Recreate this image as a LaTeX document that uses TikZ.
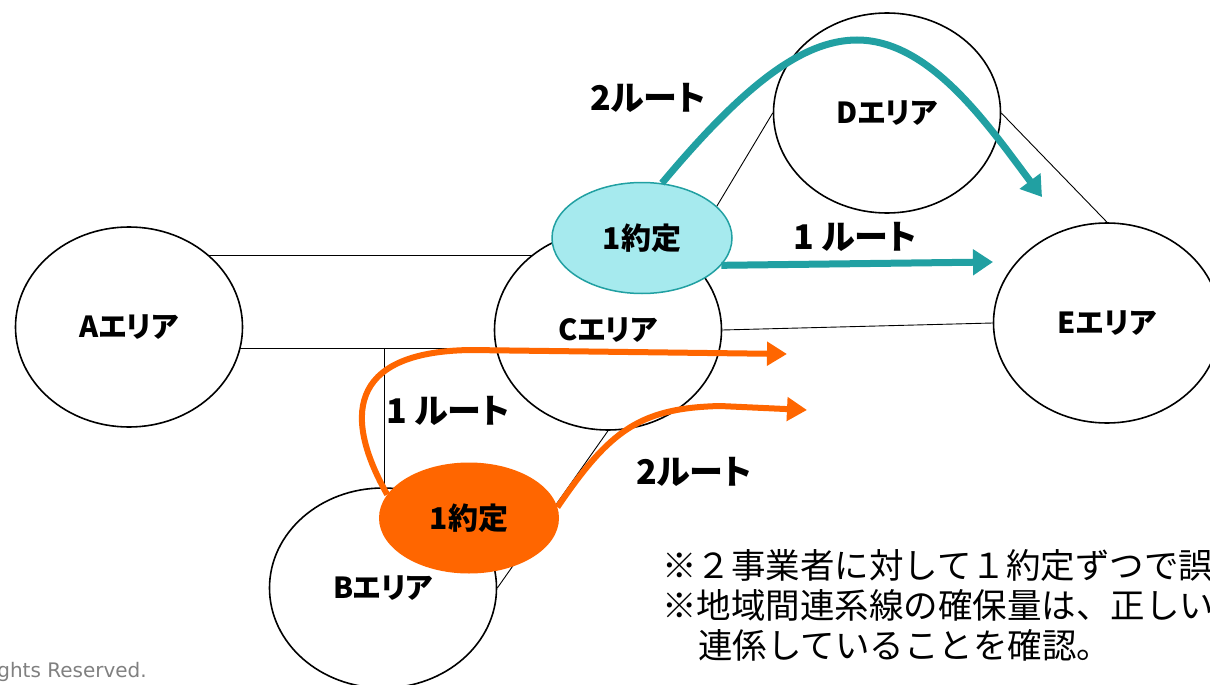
\documentclass[tikz,border=0pt]{standalone}
\usepackage{fontspec}
\setmainfont{Noto Sans CJK JP}
\newfontfamily\jpp{Noto Sans CJK JP}[RawFeature=+palt]
\newfontfamily\crfont{DejaVu Sans}
\usetikzlibrary{arrows.meta,backgrounds,calc,shapes.geometric}
\definecolor{tealline}{HTML}{21A0A2}
\definecolor{tealfill}{HTML}{A6EAEE}
\definecolor{orng}{HTML}{FF6600}
\definecolor{crgray}{HTML}{808080}
\begin{document}
\begin{tikzpicture}[x=1pt,y=-1pt,
  area/.style={ellipse, draw=black, line width=1.6pt, fill=white,
    minimum width=227pt, minimum height=200pt, inner sep=0pt,
    font=\fontsize{29}{29}\selectfont\bfseries\jpp},
  contract/.style={ellipse, minimum width=180pt, minimum height=111pt, inner sep=0pt,
    font=\fontsize{30}{30}\selectfont\bfseries\jpp},
  thinline/.style={draw=black, line width=0.9pt},
  tarrow/.style={draw=tealline, line width=7pt, -{Triangle[length=20pt,width=25pt]}},
  oarrow/.style={draw=orng, line width=6pt, -{Triangle[length=20pt,width=23pt]}},
  lbl/.style={font=\fontsize{34}{34}\selectfont\bfseries\jpp, inner sep=0pt},
  note/.style={font=\fontsize{34.5}{34.5}\selectfont, inner sep=0pt, anchor=west}]
\useasboundingbox (0,0) rectangle (1210,685);
\clip (0,0) rectangle (1210,685);
% areas
\node[area] (A) at (129,327) {Aエリア};
\node[area] (C) at (608,330) {Cエリア};
\node[area] (D) at (887,113) {Dエリア};
\node[area] (E) at (1107,323) {Eエリア};
\node[area] (B) at (383,588) {Bエリア};
% connecting lines
\begin{scope}[on background layer]
\draw[thinline] ($(A.center)+(0,-72)$) -- ($(C.center)+(0,-75)$);
\draw[thinline] ($(A.center)+(0,21)$) -- ($(C.center)+(0,18)$);
\draw[thinline] ($(A.center)+(255,21)$) -- ($(B.center)+(1,0)$);
\draw[thinline] (C.43) -- (D.west);
\draw[thinline] (D.east) -- (E.north);
\draw[thinline] (C.east) -- (E.west);
\draw[thinline] (C.south) -- (B.east);
\end{scope}
% contract ellipses
\node[contract, draw=tealline, line width=1.5pt, fill=tealfill] (t) at (642,238) {1約定};
\node[contract, fill=orng] (o) at (469,518) {1約定};
% routes
\coordinate (t1end) at (993,262);
\coordinate (t2end) at (1042,197);
\coordinate (o1end) at (787,354);
\coordinate (o2end) at (807,410);
\draw[tarrow] (t.-19) -- (t1end);
\draw[tarrow] (t.70) .. controls (740,90) and (800,40) .. (857,40)
  .. controls (930,40) and (988,125) .. (t2end);
\draw[oarrow] (o.164) .. controls (345,420) and (345,352) .. (470,350) -- (o1end);
\draw[oarrow] (o.7) .. controls (610,430) and (640,408) .. (720,406) -- (o2end);
% labels
\node[lbl] (l1) at (648,98) {2ルート};
\node[lbl] (l2) at (855,237) {1 ルート};
\node[lbl] (l3) at (448,411) {1 ルート};
\node[lbl] (l4) at (694,472) {2ルート};
% notes
\node[note] (n1) at (662,565) {※２事業者に対して１約定ずつで誤};
\node[note] (n2) at (662,605) {※地域間連系線の確保量は、正しい};
\node[note] (n3) at (698,645) {連係していることを確認。};
\node[font=\fontsize{20}{20}\selectfont\crfont, text=crgray, inner sep=0pt, anchor=east] (cr) at (147,672) {ghts Reserved.};
\end{tikzpicture}
\end{document}
